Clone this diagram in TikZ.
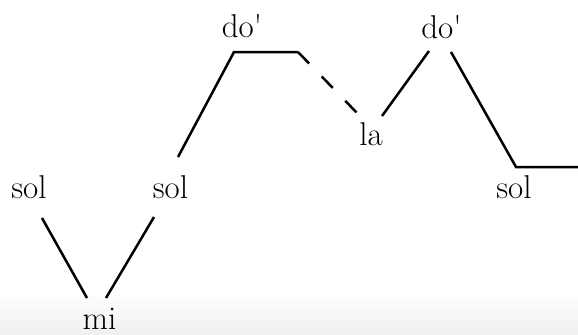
\documentclass[tikz,border=0pt]{standalone}
\begin{document}
\begin{tikzpicture}[x=0.5pt,y=-0.5pt,
  lbl/.style={anchor=base,inner sep=0pt,font=\fontsize{16.5}{19}\selectfont},
  contour/.style={line width=1.25pt,line join=miter},
  gapline/.style={contour,dash pattern=on 8pt off 9pt}]
\useasboundingbox (0,0) rectangle (578,334);
\shade[top color=white,bottom color=black!6] (0,292) rectangle (578,334);
% labels
\node[lbl] (sol1) at (29,198) {sol};
\node[lbl] (sol2) at (170.5,198) {sol};
\node[lbl] (mi) at (99.5,329) {mi};
\node[lbl] (do1) at (242,37) {do\textquotesingle};
\node[lbl] (la) at (371,145) {la};
\node[lbl] (do2) at (441.5,38) {do\textquotesingle};
\node[lbl] (sol3) at (514,198) {sol};
% connector ends
\coordinate (sol1b) at (42,218);
\coordinate (mil) at (87,298);
\coordinate (mir) at (106,298);
\coordinate (sol2a) at (154,217);
\coordinate (sol2t) at (178,157);
\coordinate (do1l) at (234,52);
\coordinate (do1r) at (298,52);
\coordinate (lal) at (358,114);
\coordinate (lar) at (382,116);
\coordinate (do2l) at (429,51);
\coordinate (do2r) at (451,52);
\coordinate (sol3t) at (516,167);
\coordinate (endr) at (578,167);
% connectors
\draw[contour] (sol1b) -- (mil);
\draw[contour] (mir) -- (sol2a);
\draw[contour] (sol2t) -- (do1l) -- (do1r);
\draw[gapline] (do1r) -- (lal);
\draw[contour] (lar) -- (do2l);
\draw[contour] (do2r) -- (sol3t) -- (endr);
\end{tikzpicture}
\end{document}
